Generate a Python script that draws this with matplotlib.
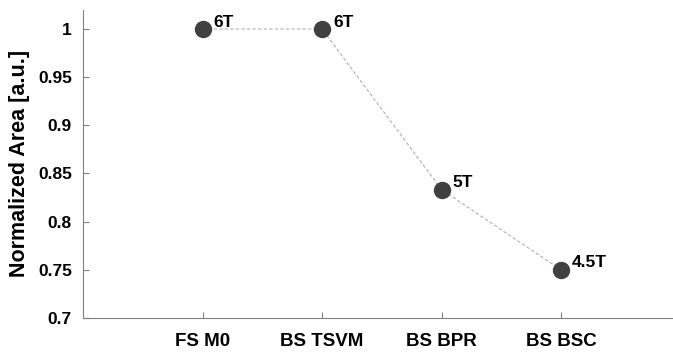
import matplotlib
matplotlib.use("Agg")
import matplotlib.pyplot as plt

# Normalized area per design
categories = ["FS M0", "BS TSVM", "BS BPR", "BS BSC"]
area_norm = [1.0, 1.0, 5 / 6, 4.5 / 6]
point_labels = ["6T", "6T", "5T", "4.5T"]
y_ticks = [0.7, 0.75, 0.8, 0.85, 0.9, 0.95, 1.0]
y_tick_labels = ["0.7", "0.75", "0.8", "0.85", "0.9", "0.95", "1"]

plt.rcParams["font.family"] = ["Liberation Sans", "DejaVu Sans"]
plt.rcParams["font.weight"] = "bold"

fig = plt.figure(figsize=(6.73, 3.54), dpi=100)
ax = fig.add_axes([83 / 673, 36 / 354, 597.5 / 673, 308.3 / 354])

x = list(range(1, len(categories) + 1))
ax.plot(x, area_norm, linestyle=(0, (3, 2)), color="#b0b0b0", linewidth=0.8, zorder=1)
ax.plot(x, area_norm, linestyle="none", marker="o", markersize=11.5,
        markerfacecolor="#404040", markeredgecolor="#404040", zorder=2)

for xi, yi, lab in zip(x, area_norm, point_labels):
    ax.annotate(lab, (xi, yi), xytext=(8, 5), textcoords="offset points",
                ha="left", va="center", fontsize=12.5, fontweight="bold", color="black")

ax.set_xlim(0, 5)
ax.set_ylim(0.7, 1.02)
ax.set_xticks(x)
ax.set_xticklabels(categories, fontsize=13.5, fontweight="bold")
ax.set_yticks(y_ticks)
ax.set_yticklabels(y_tick_labels, fontsize=12.5, fontweight="bold")
ax.set_ylabel("Normalized Area [a.u.]", fontsize=15.5, fontweight="bold", labelpad=6)

for side in ["top", "right"]:
    ax.spines[side].set_visible(False)
for side in ["left", "bottom"]:
    ax.spines[side].set_color("#808080")
    ax.spines[side].set_linewidth(0.8)
ax.tick_params(axis="both", direction="in", length=4, color="#808080", width=0.8)
ax.tick_params(axis="x", pad=11)
ax.tick_params(axis="y", pad=8)

fig.savefig("out.png", dpi=100)
